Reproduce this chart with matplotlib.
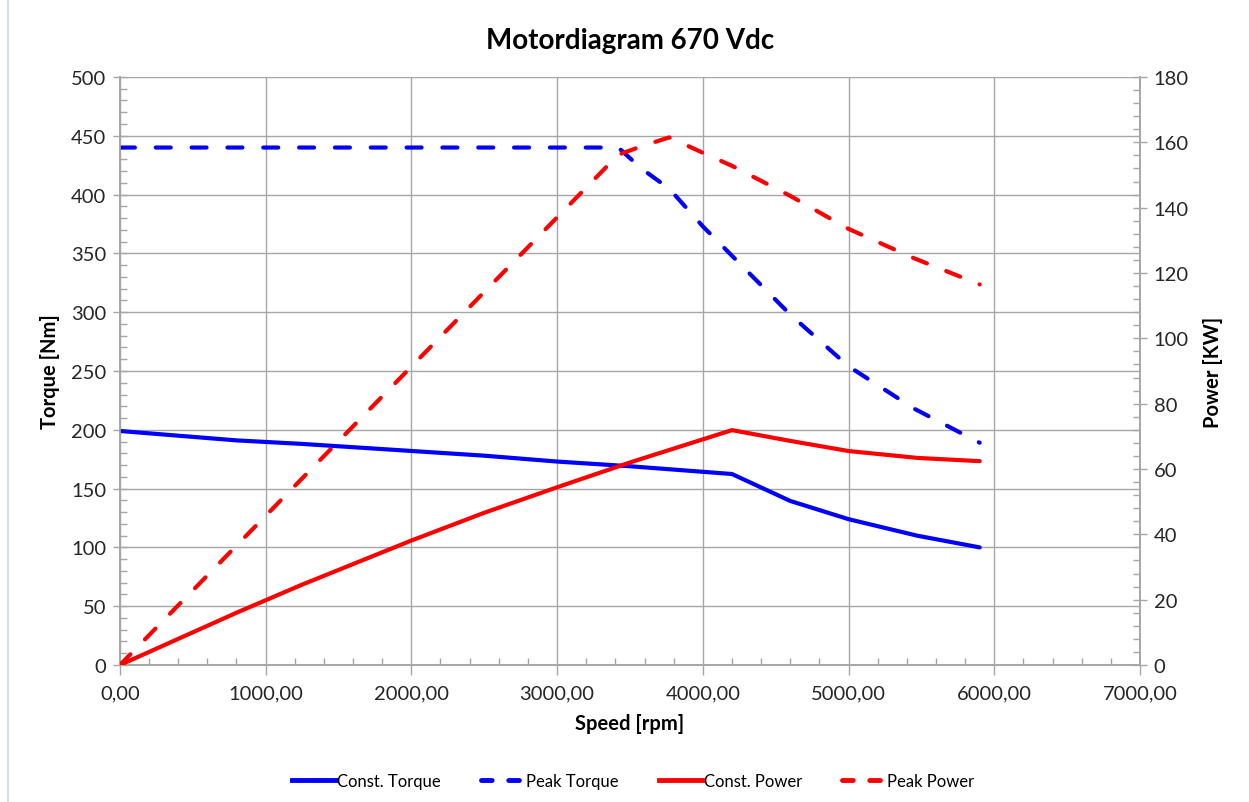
import numpy as np
import matplotlib.pyplot as plt
from matplotlib.ticker import MultipleLocator, FuncFormatter
from matplotlib.lines import Line2D

plt.rcParams['font.family'] = ['Lato', 'DejaVu Sans']

# speeds (rpm) and values
rpm_const = [0, 800, 1250, 2000, 2500, 3000, 3500, 4200, 4600, 5000, 5470, 5900]
torque_const = [199, 191, 188, 182, 178, 173, 169, 162.4, 139.5, 124, 110, 100]
power_const = [0, 16.0, 24.6, 38.1, 46.6, 54.4, 62.0, 71.9, 68.6, 65.5, 63.4, 62.4]

rpm_peak = [0, 3420, 3580, 3770, 4000, 4200, 4600, 5000, 5450, 5900]
torque_peak = [440, 440, 422, 405, 373, 348, 298, 254, 218, 189]
power_peak = [0, 156.2, 158.8, 161.5, 156.8, 152.8, 143.6, 133.5, 124.5, 116.5]

grid_col = '#a6a6a6'
dash = (3.6, 5.0)

fig = plt.figure(figsize=(12.49, 8.03), dpi=100)
ax = fig.add_axes([0.096, 0.1706, 0.8167, 0.7323])
ax2 = ax.twinx()

ax.plot(rpm_const, torque_const, color='#0000ff', lw=3, solid_capstyle='round',
        solid_joinstyle='round', zorder=3)
ax.plot(rpm_peak, torque_peak, color='#0000ff', lw=3, dashes=dash,
        dash_capstyle='round', zorder=3)
ax2.plot(rpm_const, power_const, color='#ff0000', lw=3, solid_capstyle='round',
         solid_joinstyle='round', zorder=3)
ax2.plot(rpm_peak, power_peak, color='#ff0000', lw=3, dashes=dash,
         dash_capstyle='round', zorder=3)

ax.set_xlim(0, 7000)
ax.set_ylim(0, 500)
ax2.set_ylim(0, 180)

ax.xaxis.set_major_locator(MultipleLocator(1000))
ax.xaxis.set_minor_locator(MultipleLocator(200))
ax.yaxis.set_major_locator(MultipleLocator(50))
ax.yaxis.set_minor_locator(MultipleLocator(10))
ax2.yaxis.set_major_locator(MultipleLocator(20))
ax2.yaxis.set_minor_locator(MultipleLocator(4))
ax.xaxis.set_major_formatter(FuncFormatter(lambda v, p: f'{v:.2f}'.replace('.', ',')))

ax.grid(True, which='major', color=grid_col, lw=1)
ax.set_axisbelow(True)

for a in (ax, ax2):
    for s in a.spines.values():
        s.set_color(grid_col)
        s.set_linewidth(1.2)
    a.tick_params(which='major', direction='inout', length=10, width=1, color=grid_col,
                  labelsize=14.5, labelcolor='#262626')
    a.tick_params(which='minor', direction='in', length=5, width=1, color=grid_col)
ax.spines['top'].set_visible(False)
ax2.spines['top'].set_visible(False)
ax.tick_params(axis='x', which='major', direction='out', length=7, pad=7)
ax.tick_params(axis='y', which='major', pad=5)
ax2.tick_params(axis='y', which='major', pad=5)

ax.set_title('Motordiagram 670 Vdc', fontsize=20, fontweight='bold', pad=21)
ax.set_xlabel('Speed [rpm]', fontsize=14.5, fontweight='bold', labelpad=8)
ax.set_ylabel('Torque [Nm]', fontsize=14.5, fontweight='bold', labelpad=8)
ax2.set_ylabel('Power [KW]', fontsize=14.5, fontweight='bold', labelpad=10)

handles = [
    Line2D([], [], color='#0000ff', lw=3.5),
    Line2D([], [], color='#0000ff', lw=3.5, dashes=(2.2, 3.4), dash_capstyle='round'),
    Line2D([], [], color='#ff0000', lw=3.5),
    Line2D([], [], color='#ff0000', lw=3.5, dashes=(2.2, 3.4), dash_capstyle='round'),
]
fig.legend(handles, ['Const. Torque', 'Peak Torque', 'Const. Power', 'Peak Power'],
           loc='center', bbox_to_anchor=(0.507, 0.026), ncol=4, frameon=False,
           fontsize=12, handlelength=2.6, handletextpad=0.1, columnspacing=2.4)

fig.add_artist(Line2D([0.0065, 0.0065], [0.0, 1.0], color='#c5d9f1', lw=1.2,
                      transform=fig.transFigure))

fig.savefig('out.png', dpi=100)
